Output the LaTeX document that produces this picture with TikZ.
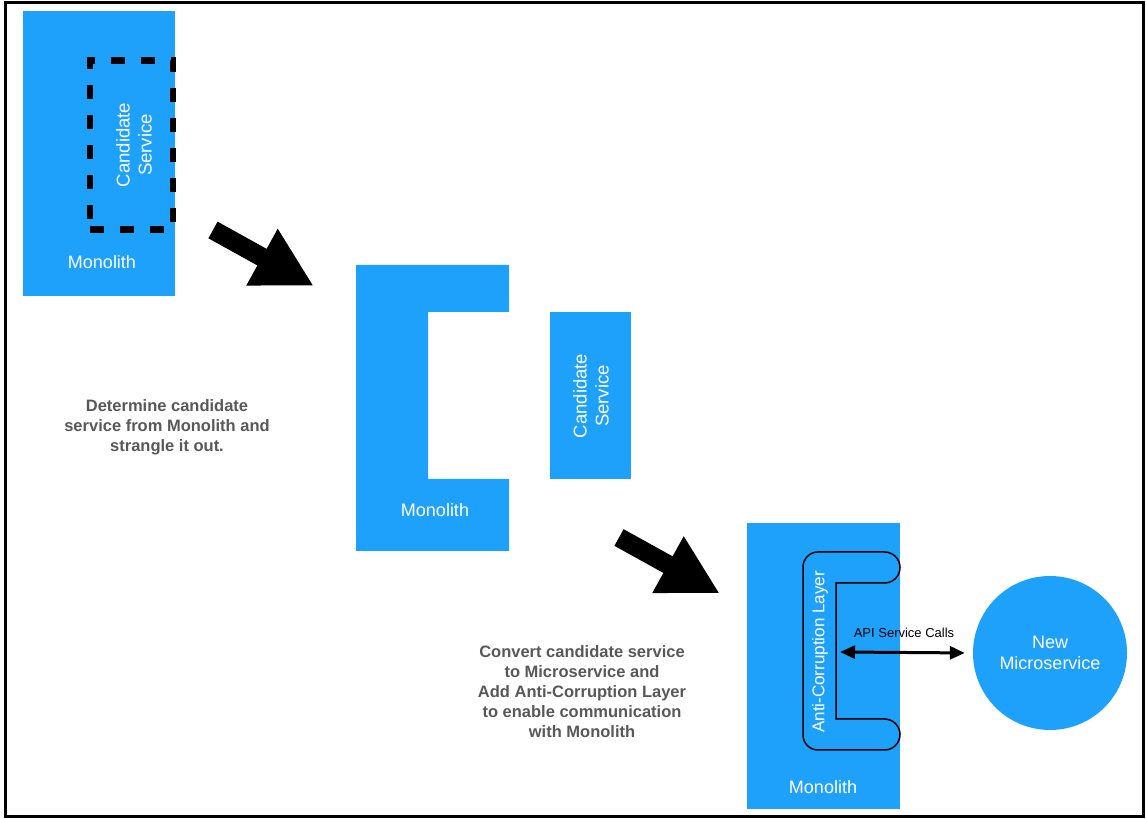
\documentclass[tikz,border=0pt]{standalone}
\usepackage{fontspec}
\setmainfont{Liberation Sans}
\usetikzlibrary{arrows.meta}
\definecolor{mblue}{RGB}{30,161,250}
\definecolor{capgray}{RGB}{88,88,88}
\begin{document}
\begin{tikzpicture}[x=1pt,y=1pt,
  blk/.style={fill=mblue, draw=none, inner sep=0pt, outer sep=0pt},
  lbl/.style={text=white, font=\fontsize{18}{21.5}\selectfont, align=center, inner sep=0pt},
  captext/.style={text=capgray, font=\bfseries\fontsize{16.5}{20}\selectfont, align=center, inner sep=0pt},
  bigarrow/.style={fill=black, draw=none}]
\useasboundingbox (0,0) rectangle (1146,819);
\draw[line width=3pt] (5.5,2) rectangle (1143.5,816.5);

% Stage 1
\node[blk, minimum width=152pt, minimum height=285pt] (m1) at (99,665.5) {};
\node[draw=black, line width=6.5pt, dash pattern=on 14pt off 16pt, minimum width=83pt, minimum height=169pt, inner sep=0pt] (cand1) at (131.5,674) {};
\node[lbl, rotate=90, font=\fontsize{18.5}{22}\selectfont] (cand1t) at (134,674) {Candidate\\Service};
\node[lbl] (m1t) at (102,557) {Monolith};

% Arrow 1
\begin{scope}[shift={(213,589)}, rotate=-29]
  \fill[bigarrow] (0,-9.5) -- (56,-9.5) -- (56,-32.5) -- (114,0) -- (56,32.5) -- (56,9.5) -- (0,9.5) -- cycle;
\end{scope}

\node[captext] (cap1) at (167,392) {Determine candidate\\service from Monolith and\\strangle it out.};

% Stage 2
\fill[mblue] (356,268) -- (509,268) -- (509,340) -- (428,340) -- (428,507) -- (509,507) -- (509,554) -- (356,554) -- cycle;
\node[lbl] (m2t) at (435,309) {Monolith};
\node[blk, minimum width=81pt, minimum height=167pt] (cand2) at (590.5,423.5) {};
\node[lbl, rotate=90, font=\fontsize{18.5}{22}\selectfont] (cand2t) at (591,423) {Candidate\\Service};

% Arrow 2
\begin{scope}[shift={(619,281.5)}, rotate=-29]
  \fill[bigarrow] (0,-9.5) -- (56,-9.5) -- (56,-32.5) -- (114,0) -- (56,32.5) -- (56,9.5) -- (0,9.5) -- cycle;
\end{scope}

\node[captext] (cap2) at (582,127) {Convert candidate service\\to Microservice and\\Add Anti-Corruption Layer\\to enable communication\\with Monolith};

% Stage 3
\node[blk, minimum width=153pt, minimum height=286pt] (m3) at (823.5,153) {};
\draw[fill=mblue, draw=black, line width=1.5pt]
  (836,236) -- (884.5,236) arc[start angle=-90, end angle=90, radius=15.5]
  -- (818,267) arc[start angle=90, end angle=180, radius=15]
  -- (803,84) arc[start angle=180, end angle=270, radius=15]
  -- (884.5,69) arc[start angle=-90, end angle=90, radius=15.5]
  -- (836,100) -- cycle;
\node[lbl, rotate=90, font=\fontsize{17}{20}\selectfont] (aclt) at (820,167) {Anti-Corruption Layer};
\node[lbl] (m3t) at (823,32) {Monolith};
\coordinate (acl) at (840,167);

\node[circle, fill=mblue, minimum size=154pt, inner sep=0pt] (ms) at (1050,166) {};
\node[lbl] (mst) at (1050,166) {New\\Microservice};

\draw[{Triangle[length=15pt,width=13pt]}-{Triangle[length=15pt,width=13pt]}, line width=3pt, shorten >=8pt] (acl) -- (ms.west);
\node[font=\fontsize{13}{15}\selectfont, inner sep=0pt] (api) at (904,186) {API Service Calls};
\end{tikzpicture}
\end{document}
